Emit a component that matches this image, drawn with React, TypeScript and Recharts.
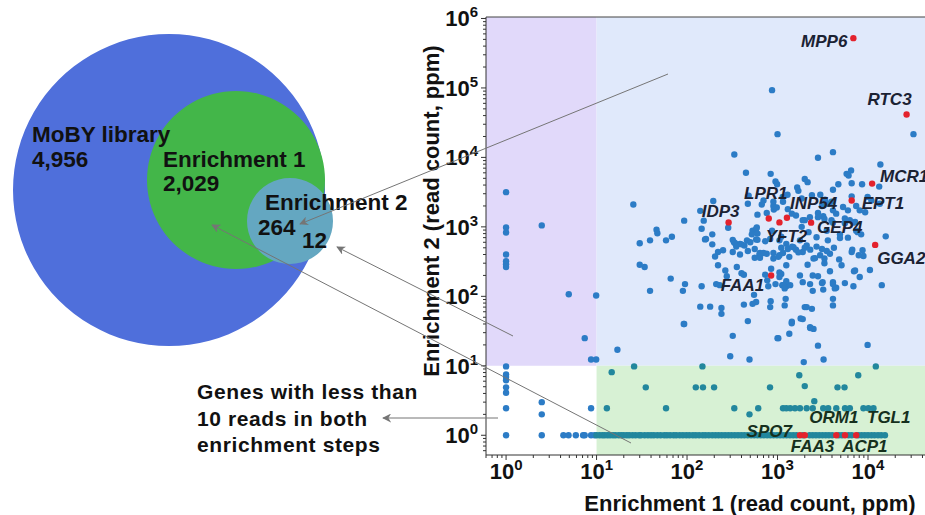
import React from 'react';
import { ScatterChart, Scatter, XAxis, YAxis, ReferenceArea, ReferenceLine, PieChart, Pie } from 'recharts';

// axes limits (log scale)
const X_DOMAIN = [0.6, 42650];
const Y_DOMAIN = [0.52, 1.05e6];
const X_MAJOR = [1, 10, 100, 1000, 10000];
const Y_MAJOR = [1, 10, 100, 1000, 10000, 100000, 1000000];

// Venn diagram sets
const VENN_NAMES = ['MoBY library', 'Enrichment 1', 'Enrichment 2'];
const VENN_COUNTS = ['4,956', '2,029', '264'];
const VENN_OUTSIDE = '12';

// genes with < 10 reads in enrichment 1 (x < 10)
const LEFT_POINTS = [
  [1, 3160], [1, 980], [1, 830], [2.48, 1050], [1, 400], [1, 320], [1, 290], [1, 265],
  [4.93, 107], [9.9, 103], [7.4, 25], [8.7, 12.3], [9.9, 12.3],
  [1, 9.8], [1, 7.5], [1, 6.9], [1, 6.2], [1, 4.9], [1, 4.1], [1, 2.45],
  [2.48, 3.0], [2.48, 2.0], [8.7, 2.45],
];

// genes at 1 ppm in enrichment 2
const ROW_1_X = [
  1, 2.48, 4.3, 4.9, 5.9, 7.1, 7.4, 8.7, 9.5, 10, 10.8, 11.6, 12.3, 13.2, 14.1, 15.2, 16.2, 17.6, 18.8,
  20, 21.6, 23, 25, 27, 29.5, 31, 34, 37, 40, 43, 47, 51, 56, 60, 65, 71, 76, 83, 90, 98, 106, 116,
  125, 136, 149, 160, 174, 190, 206, 223, 242, 263, 286, 310, 337, 366, 397, 430, 468, 510, 552, 600,
  652, 706, 768, 833, 905, 985, 1070, 1160, 1260, 1370, 1490, 1620, 1910, 2260, 2450, 2660, 2890,
  3140, 3410, 3700, 4020, 4750, 5160, 6090, 6610, 7800, 8480, 9210, 10000, 10900, 11800, 12900,
  14000, 15400,
];

// genes at ~2.5 ppm in enrichment 2
const ROW_2_X = [
  13, 58.6, 333, 612, 1150, 1250, 1380, 1560, 1770, 2100, 2450, 3200, 3630, 4460, 5570, 6300,
  8900, 10100, 11500,
];

// other low points (enrichment 2 < 10)
const LOW_POINTS = [
  [17, 17], [14.7, 8.1], [26, 9.8], [148, 9.8], [12200, 9.8], [1740, 7.3], [7800, 7.3],
  [35, 4.9], [125, 4.9], [150, 4.9], [199, 4.9], [826, 4.9], [2000, 5.1], [4600, 4.9], [5500, 4.9],
  [2550, 3.1], [490, 2.0],
];

// main cluster (both enrichments >= 10)
const CLUSTER_POINTS = [
  [870, 93000], [1000, 21600], [31800, 21600],
  [333, 11000], [2800, 9900], [4100, 11900], [13700, 7900], [448, 6000], [840, 5800], [6500, 6500],
  [5800, 5800], [6100, 5500], [13300, 3800], [950, 4500], [990, 4100], [2000, 4900], [2150, 4400],
  [6600, 4250], [8600, 4100], [4700, 4100], [4100, 3430], [1650, 3700], [1700, 3300],
  [1140, 2700], [1290, 2900], [1850, 2560], [2400, 2850], [2970, 2900], [3350, 2470], [3950, 2300],
  [6600, 2750], [9900, 2700], [10900, 2400], [13500, 2150], [5300, 1930], [6000, 1730], [700, 2400],
  [670, 2100], [470, 2150], [480, 2800], [195, 2360], [25.5, 2100], [140, 1700], [153, 1230],
  [285, 970], [93, 1230], [760, 1590], [910, 1780], [900, 2000], [1440, 1550], [1600, 1460],
  [2000, 1250], [2280, 1380], [2800, 1590], [3200, 1420], [3950, 1250], [4450, 1550], [5550, 1320],
  [6900, 1150], [7400, 880], [8400, 780], [6000, 700], [530, 880], [520, 780], [580, 930], [460, 640],
  [580, 660], [830, 670], [1050, 640], [1250, 570], [1500, 510], [1770, 640], [2100, 540], [2700, 710],
  [3600, 640], [4900, 690], [320, 650], [340, 580], [385, 570], [158, 660], [190, 780], [190, 560],
  [145, 940], [46, 910], [47, 810], [39, 640], [58.6, 640], [68, 720], [30, 580], [220, 435],
  [250, 460], [630, 400], [760, 410], [900, 350], [1050, 390], [1350, 370], [1900, 435], [2500, 350],
  [2960, 390], [3800, 410], [4800, 340], [6700, 470], [8900, 380],
  [1150, 2300], [1300, 1800], [900, 2300], [980, 1900], [3100, 2000], [3600, 2150], [4100, 1730],
  [7400, 2000], [8100, 1730], [9300, 1620], [6300, 1250], [1900, 1250], [2800, 1380], [3300, 1300],
  [4100, 1150], [5550, 1130], [7200, 1180], [1850, 1000], [2200, 840], [3500, 880], [4900, 780],
  [7700, 840], [870, 880], [1100, 720], [15700, 730], [600, 1500], [590, 980], [600, 800], [162, 670],
  [204, 375], [320, 435], [385, 400], [220, 280], [265, 235], [275, 195], [355, 265], [400, 215],
  [425, 205], [730, 205], [770, 170], [790, 140], [560, 360], [640, 360], [900, 420], [1020, 370],
  [1250, 280], [1100, 210], [1130, 145], [1250, 140], [1380, 145], [1250, 165], [1900, 160],
  [2290, 150], [2450, 120], [2000, 70], [2800, 195], [1770, 200], [3800, 230], [4100, 160],
  [4450, 133], [5100, 280], [5550, 155], [6900, 140], [7200, 235], [8100, 190], [10500, 240],
  [14200, 145], [3100, 155], [3200, 125], [2500, 34], [4100, 92], [4100, 74], [1230, 92], [1200, 74],
  [1440, 43], [1350, 29], [1020, 25], [1900, 47], [2290, 36], [2100, 70], [2400, 66], [2800, 19.5],
  [550, 105], [580, 83], [530, 78], [425, 76], [470, 44], [840, 85], [830, 70], [230, 145], [210, 150],
  [145, 140], [180, 71], [140, 71], [240, 68], [240, 56], [95, 150], [90, 120], [66, 180], [39, 120],
  [34, 265], [30, 285], [92, 40], [93, 40], [7900, 390], [6600, 435], [8700, 460], [7000, 230],
  [4300, 130], [4100, 150], [3300, 350], [3300, 300], [2600, 355], [2150, 285], [2450, 200],
  [3150, 160], [1800, 48], [2300, 35], [850, 250], [1050, 220], [1050, 190], [950, 150], [1150, 145],
  [1200, 130], [1435, 41], [320, 27], [1000, 25], [9900, 20], [300, 13.7], [490, 12.3], [1950, 11.3],
  [3230, 12.3], [1100, 500], [1300, 480], [1450, 520], [1600, 470], [2000, 500], [2300, 470],
  [2700, 520], [3100, 480], [3500, 450], [4200, 500], [1150, 420], [1700, 430], [330, 600], [350, 520],
  [400, 560], [430, 540], [470, 450], [500, 600], [560, 480], [600, 650], [640, 420], [700, 420],
  [730, 620],
];

// highlighted genes
const GENE_NAMES = ['MPP6', 'RTC3', 'MCR1', 'EPT1', 'INP54', 'GEP4', 'YFT2', 'LPR1', 'IDP3', 'GGA2', 'FAA1', 'SPO7', 'FAA3', 'ORM1', 'TGL1', 'ACP1'];
const GENE_X = [6890, 26700, 11100, 6600, 1270, 2350, 1050, 800, 288, 12000, 850, 1770, 2000, 4460, 5570, 7400];
const GENE_Y = [521000, 41500, 4200, 2400, 1350, 1150, 1160, 1320, 1160, 550, 200, 1, 1, 1, 1, 1];

// label placement relative to each gene dot: dx, dy, anchor
const LABEL_POS: Record<string, [number, number, string]> = {
  MPP6: [-6, 3, 'end'],
  RTC3: [5, -15, 'end'],
  MCR1: [8, -7, 'start'],
  EPT1: [10, 3, 'start'],
  INP54: [3, -14, 'start'],
  GEP4: [6, 5, 'start'],
  YFT2: [7, 14, 'middle'],
  LPR1: [-3, -25, 'middle'],
  IDP3: [-8, -11, 'middle'],
  GGA2: [2, 14, 'start'],
  FAA1: [-7, 10, 'end'],
  SPO7: [-8, -4, 'end'],
  FAA3: [-14, 11, 'start'],
  ORM1: [-27, -18, 'start'],
  TGL1: [22, -18, 'start'],
  ACP1: [-14, 11, 'start'],
};

const FONT = '"Liberation Sans", Arial, Helvetica, sans-serif';
const BLUE = '#2c7cc6';
const TEAL = '#22879d';
const RED = '#e3222d';
const ARROW = '#757575';

const toRows = (pts: number[][]) => pts.map(([x, y]) => ({ x, y }));
const rowAt = (xs: number[], y: number) => xs.map((x) => ({ x, y }));

const bluePoints = [
  ...toRows(LEFT_POINTS),
  ...rowAt(ROW_1_X, 1),
  ...rowAt(ROW_2_X, 2.45),
  ...toRows(LOW_POINTS),
  ...toRows(CLUSTER_POINTS),
];
const genePoints = GENE_NAMES.map((name, i) => ({ name, x: GENE_X[i], y: GENE_Y[i] }));

function minorTicks(lo: number, hi: number) {
  const out: number[] = [];
  for (let e = -1; e <= 6; e++) {
    for (let m = 2; m <= 9; m++) {
      const v = m * Math.pow(10, e);
      if (v > lo && v < hi) out.push(Number(v.toPrecision(3)));
    }
  }
  return out;
}
const X_TICKS = [...X_MAJOR, ...minorTicks(X_DOMAIN[0], X_DOMAIN[1])].sort((a, b) => a - b);
const Y_TICKS = [...Y_MAJOR, ...minorTicks(Y_DOMAIN[0], Y_DOMAIN[1])].sort((a, b) => a - b);

const XTick = (p: any) => {
  const { x, y, payload } = p;
  const major = X_MAJOR.includes(payload.value);
  return (
    <g>
      <line x1={x} x2={x} y1={y} y2={y + (major ? 5 : 3)} stroke="#333" strokeWidth={1} />
      {major && (
        <text x={x} y={y + 24} textAnchor="middle" fontFamily={FONT} fontWeight="bold" fontSize={22} fill="#111">
          10<tspan dy={-9} fontSize={15}>{Math.round(Math.log10(payload.value))}</tspan>
        </text>
      )}
    </g>
  );
};

const YTick = (p: any) => {
  const { x, y, payload } = p;
  const major = Y_MAJOR.includes(payload.value);
  return (
    <g>
      <line x1={x - (major ? 5 : 3)} x2={x} y1={y} y2={y} stroke="#333" strokeWidth={1} />
      {major && (
        <text x={x - 8} y={y + 8} textAnchor="end" fontFamily={FONT} fontWeight="bold" fontSize={22} fill="#111">
          10<tspan dy={-9} fontSize={15}>{Math.round(Math.log10(payload.value))}</tspan>
        </text>
      )}
    </g>
  );
};

const Dot = (p: any) => {
  const { cx, cy, payload } = p;
  const fill = payload.x >= 10 && payload.y < 10 ? TEAL : BLUE;
  return <circle cx={cx} cy={cy} r={3.2} fill={fill} />;
};

const GeneDot = (p: any) => {
  const { cx, cy, payload } = p;
  const [dx, dy, anchor] = LABEL_POS[payload.name];
  const low = payload.y < 10;
  return (
    <g>
      <circle cx={cx} cy={cy} r={3.2} fill={RED} />
      <text
        x={cx + dx}
        y={cy + dy}
        textAnchor={anchor as any}
        dominantBaseline="central"
        fontFamily={FONT}
        fontWeight="bold"
        fontStyle="italic"
        fontSize={17}
        fill={low ? '#15301d' : '#1b2233'}
      >
        {payload.name}
      </text>
    </g>
  );
};

export default function App() {
  return (
    <div style={{ position: 'absolute', left: 0, top: 0, width: 925, height: 515, background: '#fff', overflow: 'hidden' }}>
      <div style={{ position: 'absolute', left: 0, top: 0 }}>
        <PieChart width={460} height={400} margin={{ top: 0, right: 0, bottom: 0, left: 0 }}>
          <Pie data={[{ value: 1 }]} dataKey="value" cx={169} cy={190} outerRadius={156} fill="#4f6fdb" stroke="none" isAnimationActive={false} />
          <Pie data={[{ value: 1 }]} dataKey="value" cx={236} cy={180} outerRadius={89} fill="#43b649" stroke="none" isAnimationActive={false} />
          <Pie data={[{ value: 1 }]} dataKey="value" cx={290} cy={221} outerRadius={43} fill="#64a7c1" stroke="none" isAnimationActive={false} />
        </PieChart>
      </div>
      <div style={{ position: 'absolute', left: 0, top: 0 }}>
        <ScatterChart width={925} height={515} margin={{ top: 17, right: 0, left: 426, bottom: 30 }}>
          <XAxis
            type="number"
            dataKey="x"
            scale="log"
            domain={X_DOMAIN}
            allowDataOverflow
            ticks={X_TICKS}
            interval={0}
            tick={XTick}
            tickLine={false}
            tickSize={0}
            tickMargin={0}
            axisLine={{ stroke: '#333' }}
            height={30}
          />
          <YAxis
            type="number"
            dataKey="y"
            scale="log"
            domain={Y_DOMAIN}
            allowDataOverflow
            ticks={Y_TICKS}
            interval={0}
            tick={YTick}
            tickLine={false}
            tickSize={0}
            tickMargin={0}
            axisLine={{ stroke: '#333' }}
            width={60}
          />
          <ReferenceArea x1={X_DOMAIN[0]} x2={10} y1={10} y2={Y_DOMAIN[1]} fill="#e1d9fa" fillOpacity={1} stroke="none" ifOverflow="hidden" />
          <ReferenceArea x1={10} x2={X_DOMAIN[1]} y1={10} y2={Y_DOMAIN[1]} fill="#e0e9fb" fillOpacity={1} stroke="none" ifOverflow="hidden" />
          <ReferenceArea x1={10} x2={X_DOMAIN[1]} y1={Y_DOMAIN[0]} y2={10} fill="#d7f1d4" fillOpacity={1} stroke="none" ifOverflow="hidden" />
          <ReferenceLine y={Y_DOMAIN[1]} stroke="#444" strokeWidth={1.2} ifOverflow="visible" />
          <Scatter data={bluePoints} shape={Dot} isAnimationActive={false} />
          <Scatter data={genePoints} shape={GeneDot} isAnimationActive={false} />
        </ScatterChart>
      </div>
      <svg width={925} height={515} style={{ position: 'absolute', left: 0, top: 0, pointerEvents: 'none' }} fontFamily={FONT} fontWeight="bold" fill="#111">
        <defs>
          <marker id="ah" viewBox="0 0 10 10" refX="9" refY="5" markerWidth="9" markerHeight="9" markerUnits="userSpaceOnUse" orient="auto">
            <path d="M0,0 L10,5 L0,10 L3,5 z" fill={ARROW} />
          </marker>
        </defs>
        {/* Venn labels */}
        <text x={32} y={142} fontSize={22.5}>{VENN_NAMES[0]}</text>
        <text x={32} y={167} fontSize={22.5}>{VENN_COUNTS[0]}</text>
        <text x={163} y={167} fontSize={22.5}>{VENN_NAMES[1]}</text>
        <text x={163} y={191} fontSize={22.5}>{VENN_COUNTS[1]}</text>
        <text x={265} y={210} fontSize={22.5}>{VENN_NAMES[2]}</text>
        <text x={258} y={235} fontSize={22.5}>{VENN_COUNTS[2]}</text>
        <text x={302} y={248} fontSize={22.5}>{VENN_OUTSIDE}</text>
        {/* note */}
        <g fontSize={21} letterSpacing={0.6}>
          <text x={197} y={399}>Genes with less than</text>
          <text x={197} y={426}>10 reads in both</text>
          <text x={197} y={452}>enrichment steps</text>
        </g>
        {/* axis titles */}
        <text x={750} y={511} fontSize={22} textAnchor="middle">Enrichment 1 (read count, ppm)</text>
        <text x={439} y={211} fontSize={22} textAnchor="middle" transform="rotate(-90 439 211)">Enrichment 2 (read count, ppm)</text>
        {/* arrows */}
        <g stroke={ARROW} strokeWidth={1}>
          <line x1={668} y1={74} x2={300} y2={224} markerEnd="url(#ah)" />
          <line x1={513} y1={336} x2={337} y2={247} markerEnd="url(#ah)" />
          <line x1={631} y1={443} x2={212} y2={225} markerEnd="url(#ah)" />
          <line x1={498} y1={418} x2={383} y2={418} markerEnd="url(#ah)" />
        </g>
      </svg>
    </div>
  );
}
